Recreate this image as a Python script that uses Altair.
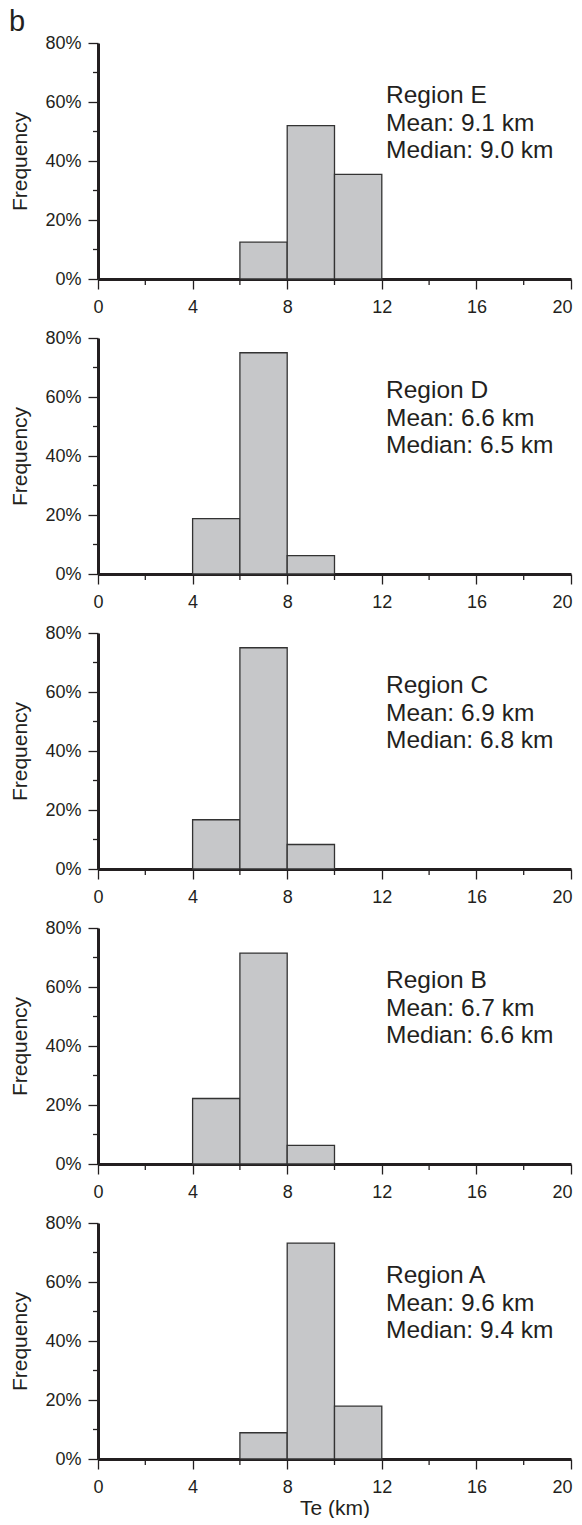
import altair as alt
import pandas as pd

FONT = "Liberation Sans"
INK = "#231f20"

panel_letter = "b"
regions = ["E", "D", "C", "B", "A"]
means = [9.1, 6.6, 6.9, 6.7, 9.6]
medians = [9.0, 6.5, 6.8, 6.6, 9.4]

bin_width = 2
bin_start_E = [6, 8, 10]
freq_E = [12.5, 52.0, 35.5]
bin_start_D = [4, 6, 8]
freq_D = [18.75, 75.0, 6.25]
bin_start_C = [4, 6, 8]
freq_C = [16.7, 75.0, 8.3]
bin_start_B = [4, 6, 8]
freq_B = [22.2, 71.5, 6.3]
bin_start_A = [6, 8, 10]
freq_A = [8.9, 73.2, 17.9]

x_ticks_major = [0, 4, 8, 12, 16, 20]
x_ticks_minor = [2, 6, 10, 14, 18]
y_ticks_major = [0, 20, 40, 60, 80]
y_ticks_minor = [10, 30, 50, 70]

starts = [bin_start_E, bin_start_D, bin_start_C, bin_start_B, bin_start_A]
freqs = [freq_E, freq_D, freq_C, freq_B, freq_A]

W, H = 473, 236


def panel(region, st, fr, mean, median, first, last):
    df = pd.DataFrame({"start": st, "end": [s + bin_width for s in st],
                       "freq": fr, "zero": [0] * len(st)})
    xscale = alt.Scale(domain=[0, 20], nice=False, zero=False)
    yscale = alt.Scale(domain=[0, 80], nice=False)
    xtitle = "Te (km)" if last else None
    xaxis = alt.Axis(values=x_ticks_major, format="d", title=xtitle,
                     labelOffset={"expr": "datum.value == 20 ? -9 : 0"})
    yaxis = alt.Axis(values=y_ticks_major, labelExpr="datum.value + '%'",
                     title="Frequency")
    bars = alt.Chart(df).mark_rect(
        fill="#c6c7c9", stroke="#333333", strokeWidth=1.3
    ).encode(
        x=alt.X("start:Q", scale=xscale, axis=xaxis),
        x2="end:Q",
        y=alt.Y("freq:Q", scale=yscale, axis=yaxis),
        y2="zero:Q",
    )
    xminor = alt.Chart(pd.DataFrame({"v": x_ticks_minor})).mark_rule(
        color=INK, strokeWidth=1.3
    ).encode(
        x=alt.X("v:Q", scale=xscale, axis=xaxis),
        y=alt.value(H), y2=alt.value(H + 6),
    )
    yminor = alt.Chart(pd.DataFrame({"v": y_ticks_minor})).mark_rule(
        color=INK, strokeWidth=1.3
    ).encode(
        y=alt.Y("v:Q", scale=yscale, axis=yaxis),
        x=alt.value(-5), x2=alt.value(0),
    )
    label = f"Region {region}\nMean: {mean:.1f} km\nMedian: {median:.1f} km"
    txt = alt.Chart(pd.DataFrame({"t": [label]})).mark_text(
        align="left", baseline="alphabetic", fontSize=24.5, lineHeight=27.5,
        lineBreak="\n", font=FONT, color=INK
    ).encode(text="t:N", x=alt.value(288), y=alt.value(60))
    layers = [bars, xminor, yminor, txt]
    if first:
        letter = alt.Chart(pd.DataFrame({"t": [panel_letter]})).mark_text(
            align="left", baseline="alphabetic", fontSize=29, font=FONT,
            color=INK
        ).encode(text="t:N", x=alt.value(-89), y=alt.value(-12))
        layers.append(letter)
    return alt.layer(*layers).properties(width=W, height=H)


n = len(regions)
panels = [panel(regions[i], starts[i], freqs[i], means[i], medians[i],
                i == 0, i == n - 1) for i in range(n)]

chart = alt.vconcat(*panels, spacing=59, bounds="flush").properties(
    padding={"left": 1, "top": 0, "right": 0, "bottom": 0},
).configure_view(stroke=None).configure_axis(
    domainWidth=3, domainColor=INK, tickColor=INK, tickWidth=1.3, tickSize=10,
    labelFont=FONT, labelFontSize=18, labelColor=INK,
    titleFont=FONT, titleFontSize=21, titleFontWeight="normal", titleColor=INK,
    grid=False, zindex=1, labelFlush=False,
).configure_axisY(labelPadding=7, titlePadding=14).configure_axisX(
    labelPadding=9, titlePadding=1)

chart.save("out.html", embed_options={"renderer": "svg", "actions": False})
